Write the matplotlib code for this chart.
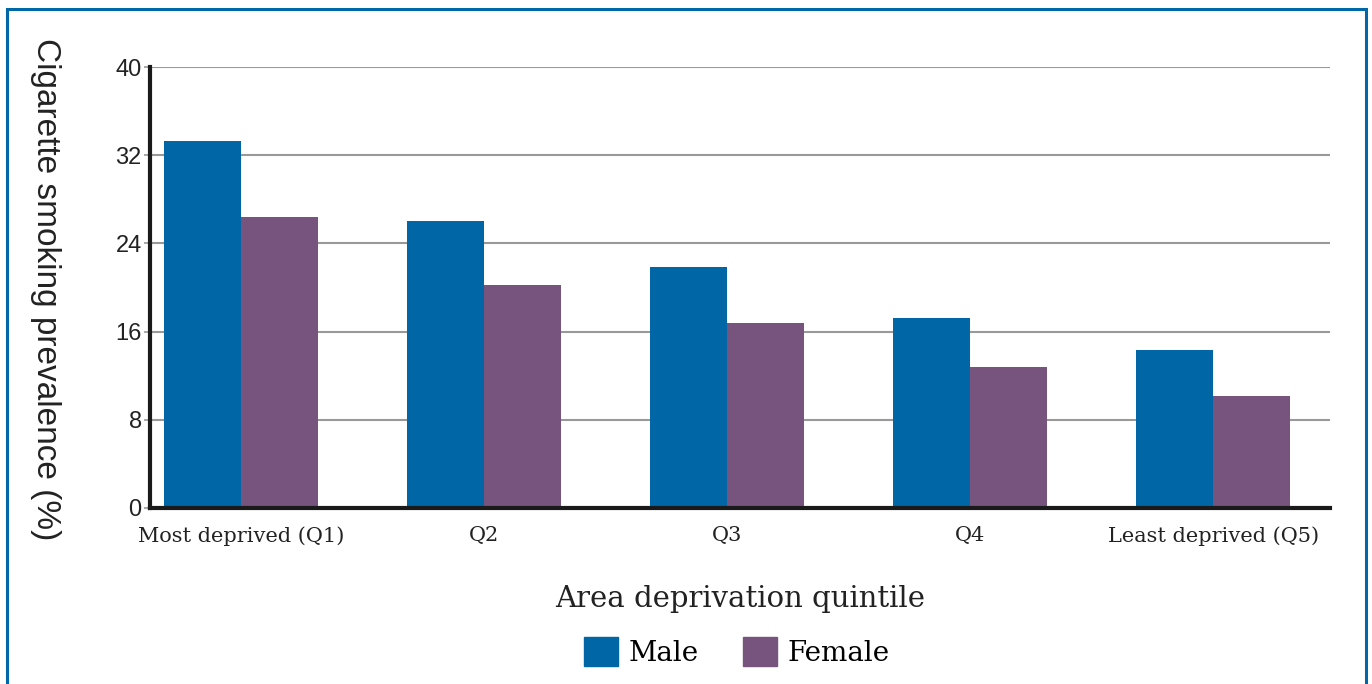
import matplotlib
matplotlib.use('Agg')
import matplotlib.pyplot as plt
import numpy as np
from matplotlib.patches import Rectangle, Patch

# Dati
categories = ['Most deprived (Q1)', 'Q2', 'Q3', 'Q4', 'Least deprived (Q5)']
male = [33.3, 26.0, 21.9, 17.2, 14.3]
female = [26.4, 20.2, 16.8, 12.8, 10.2]
y_ticks = [0, 8, 16, 24, 32, 40]

MALE_COLOR = '#0066a6'
FEMALE_COLOR = '#77547e'
SLAB = 'DejaVu Serif'
SANS = 'Liberation Sans'

fig = plt.figure(figsize=(13.72, 6.84), dpi=100)
ax = fig.add_axes([150 / 1372, 176 / 684, 1180 / 1372, 441 / 684])

x = np.arange(len(categories))
w = 0.317
ax.bar(x - w / 2, male, width=w, color=MALE_COLOR, zorder=3, label='Male')
ax.bar(x + w / 2, female, width=w, color=FEMALE_COLOR, zorder=3, label='Female')

ax.set_xlim(-0.3745, 4.481)
ax.set_ylim(0, 40)
ax.set_yticks(y_ticks)
ax.set_yticklabels([str(t) for t in y_ticks], fontfamily=SANS, fontsize=17, color='#222222')
ax.set_xticks(x)
ax.set_xticklabels(categories, fontfamily=SLAB, fontsize=15, color='#222222')
ax.tick_params(axis='x', length=0, pad=13)
ax.tick_params(axis='y', length=4, width=1.2, color='#999999', pad=2)

ax.yaxis.grid(True, color='#999999', linewidth=1.5, zorder=0)
for s in ['top', 'right']:
    ax.spines[s].set_visible(False)
for s in ['left', 'bottom']:
    ax.spines[s].set_linewidth(3)
    ax.spines[s].set_color('#1a1a1a')
    ax.spines[s].set_zorder(4)

ax.set_xlabel('Area deprivation quintile', fontfamily=SLAB, fontsize=21,
              color='#222222', labelpad=28)
fig.text(45 / 1372, 1 - 289 / 684, 'Cigarette smoking prevalence (%)', rotation=270,
         ha='center', va='center', fontfamily=SANS, fontsize=24, color='#222222')

handles = [Patch(color=MALE_COLOR, label='Male'), Patch(color=FEMALE_COLOR, label='Female')]
fig.legend(handles=handles, loc='center', bbox_to_anchor=(737 / 1372, 1 - 652 / 684),
           ncol=2, frameon=False, prop={'family': SLAB, 'size': 20},
           handlelength=1.2, handleheight=1.2, handletextpad=0.4, columnspacing=1.6)

# Cornice blu
fig.patches.append(Rectangle((7 / 1372, -0.02), 1359 / 1372, 1 - 9 / 684 + 0.02,
                             transform=fig.transFigure, fill=False,
                             edgecolor='#0067a6', linewidth=2.2))

fig.savefig('out.png', dpi=100)
